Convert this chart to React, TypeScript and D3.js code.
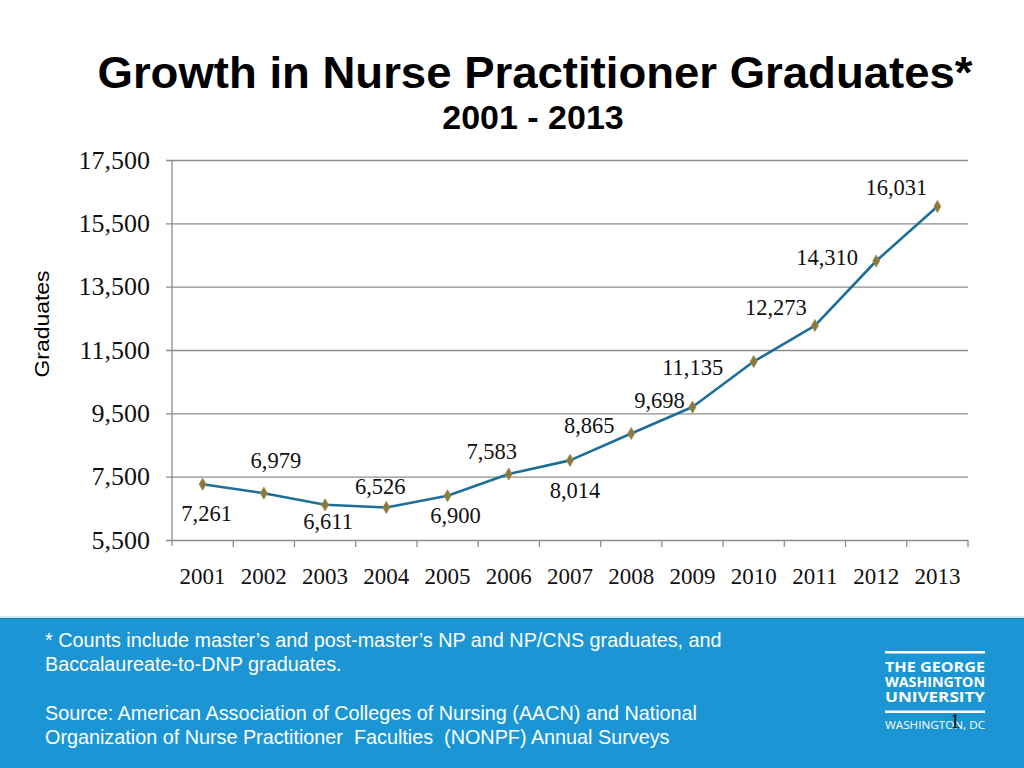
import { useEffect, useRef } from 'react';
import * as d3 from 'd3';

const years = ['2001', '2002', '2003', '2004', '2005', '2006', '2007', '2008', '2009', '2010', '2011', '2012', '2013'];
const graduates = [7261, 6979, 6611, 6526, 6900, 7583, 8014, 8865, 9698, 11135, 12273, 14310, 16031];
const yTicks = [5500, 7500, 9500, 11500, 13500, 15500, 17500];

// where each value label sits, relative to its point (layout only)
const labelOffsets: [number, number][] = [
  [4, 37], [12, -25], [3, 24], [-6, -14], [8, 27], [-17, -15], [5, 38],
  [-42, 0], [-33, 1], [-61, 13], [-39, -11], [-49, 4], [-41, -12],
];

const footLines = [
  '* Counts include master\u2019s and post-master\u2019s NP and NP/CNS graduates, and',
  'Baccalaureate-to-DNP graduates.',
  '',
  'Source: American Association of Colleges of Nursing (AACN) and National',
  'Organization of Nurse Practitioner  Faculties  (NONPF) Annual Surveys',
];

export default function App() {
  const svgRef = useRef<SVGSVGElement>(null);

  useEffect(() => {
    if (!svgRef.current) return;
    const svg = d3.select(svgRef.current);
    svg.selectAll('*').remove();

    const W = 1024;
    const H = 768;
    const m = { top: 160, right: 56, bottom: 228, left: 172 };
    const serif = "'Liberation Serif', 'DejaVu Serif', serif";
    const sans = "'Liberation Sans', Arial, sans-serif";

    svg.append('rect').attr('width', W).attr('height', H).attr('fill', '#fff');

    // titles
    svg.append('text').attr('x', 535).attr('y', 88).attr('text-anchor', 'middle')
      .attr('font-family', sans).attr('font-weight', 'bold').attr('font-size', 45)
      .attr('textLength', 875).attr('lengthAdjust', 'spacingAndGlyphs')
      .text('Growth in Nurse Practitioner Graduates*');
    svg.append('text').attr('x', 533).attr('y', 129).attr('text-anchor', 'middle')
      .attr('font-family', sans).attr('font-weight', 'bold').attr('font-size', 34)
      .text('2001 - 2013');

    const x = d3.scaleBand().domain(years).range([m.left, W - m.right]);
    const y = d3.scaleLinear().domain([5500, 17500]).range([H - m.bottom, m.top]);

    // grid + y axis
    const gy = svg.append('g').attr('transform', `translate(${m.left},0)`)
      .call(d3.axisLeft(y).tickValues(yTicks).tickSize(-(W - m.right - m.left)).tickSizeOuter(0)
        .tickFormat((d) => d3.format(',')(d as number)).tickPadding(22));
    gy.select('.domain').remove();
    gy.selectAll('.tick line').attr('stroke', '#8c8c8c').attr('stroke-width', 1.3)
      .attr('x1', -6);
    gy.selectAll('.tick text').attr('font-family', serif).attr('font-size', 26).attr('fill', '#111');
    svg.append('line').attr('x1', m.left).attr('x2', m.left)
      .attr('y1', m.top).attr('y2', H - m.bottom + 6)
      .attr('stroke', '#8c8c8c').attr('stroke-width', 1.3);

    // x axis
    const gx = svg.append('g').attr('transform', `translate(0,${H - m.bottom})`)
      .call(d3.axisBottom(x).tickSize(0).tickPadding(28));
    gx.select('.domain').remove();
    gx.selectAll('.tick text').attr('font-family', serif).attr('font-size', 23).attr('fill', '#111');
    gx.selectAll('.sep').data(years).join('line').attr('class', 'sep')
      .attr('x1', (d) => (x(d) as number) + x.bandwidth()).attr('x2', (d) => (x(d) as number) + x.bandwidth())
      .attr('y1', 0).attr('y2', 7).attr('stroke', '#8c8c8c').attr('stroke-width', 1.3);

    svg.append('text').attr('transform', `translate(49,324) rotate(-90)`)
      .attr('text-anchor', 'middle').attr('font-family', sans).attr('font-size', 21)
      .attr('textLength', 107).attr('lengthAdjust', 'spacingAndGlyphs')
      .text('Graduates');

    const cx = (i: number) => (x(years[i]) as number) + x.bandwidth() / 2;
    const line = d3.line<number>().x((_, i) => cx(i)).y((d) => y(d));
    svg.append('path').datum(graduates).attr('d', line).attr('fill', 'none')
      .attr('stroke', '#1e6f98').attr('stroke-width', 2.6).attr('stroke-linejoin', 'round');

    const diamond = d3.symbol().type(d3.symbolDiamond).size(42);
    svg.selectAll('.pt').data(graduates).join('path').attr('class', 'pt')
      .attr('d', diamond).attr('transform', (d, i) => `translate(${cx(i)},${y(d)})`)
      .attr('fill', '#8c7a3c').attr('stroke', '#a08a48').attr('stroke-width', 0.8);

    svg.selectAll('.lbl').data(graduates).join('text').attr('class', 'lbl')
      .attr('x', (_, i) => cx(i) + labelOffsets[i][0])
      .attr('y', (d, i) => y(d) + labelOffsets[i][1])
      .attr('text-anchor', 'middle').attr('font-family', serif).attr('font-size', 22.5).attr('fill', '#111')
      .text((d) => d3.format(',')(d));

    // footer band
    svg.append('rect').attr('x', 0).attr('y', 618).attr('width', W).attr('height', H - 618).attr('fill', '#1b95d3');
    svg.append('line').attr('x1', 0).attr('x2', W).attr('y1', 618.5).attr('y2', 618.5).attr('stroke', '#1779a8').attr('stroke-width', 1);
    svg.append('line').attr('x1', 0).attr('x2', W).attr('y1', 617).attr('y2', 617).attr('stroke', '#bfe6f6').attr('stroke-width', 1.5);

    svg.selectAll('.foot').data(footLines).join('text').attr('class', 'foot')
      .attr('x', 45).attr('y', (_, i) => 647 + i * 24.3)
      .attr('font-family', sans).attr('font-size', 19.8).attr('fill', '#fff')
      .style('white-space', 'pre')
      .text((d) => d);

    // logo
    const logo = svg.append('g').attr('fill', '#fff').attr('font-family', "'Open Sans', 'DejaVu Sans', sans-serif");
    logo.append('rect').attr('x', 885).attr('y', 651).attr('width', 100).attr('height', 2.5);
    logo.append('rect').attr('x', 885).attr('y', 710.5).attr('width', 100).attr('height', 2.5);
    ['THE GEORGE', 'WASHINGTON', 'UNIVERSITY'].forEach((t, i) => {
      logo.append('text').attr('x', 885).attr('y', 672 + i * 15.2).attr('font-size', 14.5)
        .attr('font-weight', 'bold').attr('textLength', 100).attr('lengthAdjust', 'spacingAndGlyphs').text(t);
    });
    logo.append('text').attr('x', 885).attr('y', 728.5).attr('font-size', 10)
      .attr('textLength', 100).attr('lengthAdjust', 'spacingAndGlyphs').text('WASHINGTON, DC');
    svg.append('text').attr('x', 955).attr('y', 728).attr('text-anchor', 'middle')
      .attr('font-family', serif).attr('font-size', 22).attr('fill', '#111').text('1');
  }, []);

  return (
    <div style={{ position: 'absolute', left: 0, top: 0 }}>
      <svg ref={svgRef} width={1024} height={768} viewBox="0 0 1024 768" style={{ display: 'block' }} />
    </div>
  );
}
